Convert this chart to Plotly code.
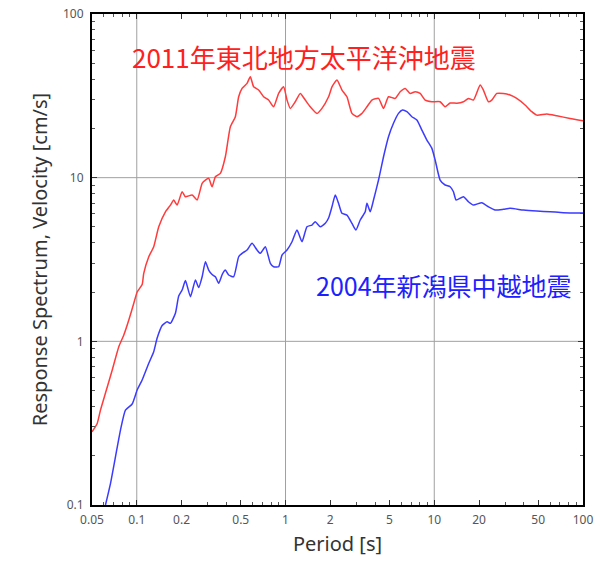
import plotly.graph_objects as go

# Velocity response spectra (period in s, velocity in cm/s)
period_2011 = [0.05, 0.0542, 0.0570, 0.0616, 0.0684, 0.0757, 0.0818, 0.0884, 0.0955, 0.1006,
               0.1087, 0.1114, 0.1204, 0.130, 0.1405, 0.1558, 0.1684, 0.1772, 0.1868, 0.2018,
               0.2124, 0.2356, 0.2545, 0.275, 0.2893, 0.3044, 0.3209, 0.3377, 0.3648, 0.394,
               0.4258, 0.460, 0.4842, 0.5104, 0.5512, 0.580, 0.6107, 0.6597, 0.7127, 0.770,
               0.832, 0.899, 0.971, 1.0235, 1.077, 1.163, 1.257, 1.358, 1.467, 1.628,
               1.758, 1.948, 2.053, 2.218, 2.397, 2.588, 2.797, 3.022, 3.265, 3.527,
               3.81, 4.22, 4.56, 4.925, 5.46, 5.90, 6.375, 6.89, 7.44, 8.04,
               8.69, 9.64, 10.95, 11.83, 12.79, 14.18, 15.71, 16.97, 18.34, 20.34,
               21.40, 23.12, 24.37, 26.33, 29.16, 32.34, 35.86, 40.79, 45.23, 48.89,
               57.05, 66.6, 81.8, 100.0]
vel_2011 = [0.280, 0.315, 0.380, 0.483, 0.668, 0.927, 1.093, 1.349, 1.707, 2.001,
            2.223, 2.603, 3.287, 3.784, 5.014, 6.19, 6.80, 7.30, 6.80, 8.20,
            7.65, 7.83, 7.30, 9.23, 9.67, 9.91, 8.80, 10.13, 10.63, 13.42,
            20.48, 23.57, 31.2, 35.1, 37.7, 41.4, 35.9, 34.3, 31.2, 29.8,
            27.1, 32.7, 35.9, 29.8, 26.5, 29.1, 32.7, 29.8, 27.1, 24.7,
            26.5, 31.2, 35.9, 39.5, 34.3, 31.2, 24.7, 23.6, 24.7, 27.1,
            29.8, 30.5, 26.5, 31.2, 30.5, 33.5, 35.1, 32.7, 33.5, 32.7,
            29.8, 29.1, 29.1, 27.1, 28.6, 28.5, 29.1, 30.5, 29.8, 36.8,
            34.3, 29.1, 29.8, 32.7, 32.7, 32.0, 30.5, 27.8, 25.3, 24.1,
            24.5, 23.9, 23.0, 22.3]

period_2004 = [0.0616, 0.0666, 0.0719, 0.0777, 0.0839, 0.0931, 0.1006, 0.1087, 0.1204, 0.130,
               0.1371, 0.1481, 0.160, 0.1684, 0.1819, 0.1914, 0.2018, 0.2124, 0.2295, 0.2479,
               0.2608, 0.275, 0.2893, 0.3044, 0.3209, 0.3377, 0.3553, 0.3763, 0.394, 0.4148,
               0.448, 0.4842, 0.5104, 0.5512, 0.5957, 0.6437, 0.6775, 0.7316, 0.7906, 0.832,
               0.899, 0.9474, 1.0235, 1.106, 1.1946, 1.291, 1.394, 1.507, 1.585, 1.713,
               1.851, 1.948, 2.053, 2.161, 2.273, 2.397, 2.588, 2.797, 2.975, 3.18,
               3.435, 3.527, 3.711, 3.906, 4.22, 4.56, 4.925, 5.32, 5.75, 6.115,
               6.546, 7.072, 7.64, 8.256, 8.92, 9.64, 10.14, 10.95, 11.83, 12.79,
               13.46, 14.03, 15.71, 16.97, 18.34, 20.88, 23.12, 25.65, 29.16, 32.34,
               39.72, 48.9, 60.05, 73.8, 100.0]
vel_2004 = [0.100, 0.1357, 0.197, 0.287, 0.380, 0.414, 0.504, 0.580, 0.734, 0.864,
            1.047, 1.249, 1.317, 1.288, 1.483, 1.891, 2.058, 2.352, 1.873, 2.368,
            2.132, 2.48, 3.064, 2.727, 2.559, 2.48, 2.262, 2.577, 2.727, 2.542,
            2.48, 3.287, 3.449, 3.613, 3.97, 3.613, 3.449, 3.784, 2.996, 2.856,
            2.856, 3.367, 3.613, 4.059, 4.786, 4.059, 5.014, 5.135, 5.38, 5.014,
            5.26, 5.666, 6.643, 7.83, 6.97, 6.054, 5.911, 5.26, 4.786, 5.51,
            6.19, 6.97, 6.19, 7.30, 9.67, 13.42, 17.79, 21.48, 24.7, 25.9,
            25.3, 23.57, 22.5, 19.54, 16.98, 15.11, 12.82, 9.67, 9.02, 8.80,
            8.20, 7.30, 7.65, 7.13, 6.80, 7.03, 6.64, 6.34, 6.41, 6.50,
            6.34, 6.25, 6.19, 6.11, 6.08]

label_2011 = "2011年東北地方太平洋沖地震"
label_2004 = "2004年新潟県中越地震"

x_tick_vals = [0.05, 0.1, 0.2, 0.5, 1, 2, 5, 10, 20, 50, 100]
x_tick_text = ["0.05", "0.1", "0.2", "0.5", "1", "2", "5", "10", "20", "50", "100"]
y_tick_vals = [0.1, 1, 10, 100]
y_tick_text = ["0.1", "1", "10", "100"]
grid_x = [0.1, 1, 10]
grid_y = [1, 10]

RED = "#ff3b3b"
BLUE = "#3b3bff"


def minor_ticks(lo, hi, skip):
    vals = []
    for e in range(-3, 4):
        for m in range(1, 10):
            v = round(m * 10 ** e, 6)
            if lo <= v <= hi and v not in skip:
                vals.append(v)
    return vals


fig = go.Figure()
fig.add_trace(go.Scatter(x=period_2011, y=vel_2011, mode="lines", name=label_2011,
                         line=dict(color=RED, width=1.5, shape="spline", smoothing=0.5)))
fig.add_trace(go.Scatter(x=period_2004, y=vel_2004, mode="lines", name=label_2004,
                         line=dict(color=BLUE, width=1.5, shape="spline", smoothing=0.5)))

# decade grid lines
shapes = []
for gx in grid_x:
    shapes.append(dict(type="line", xref="x", yref="paper", x0=gx, x1=gx, y0=0, y1=1,
                       line=dict(color="#a0a0a0", width=1), layer="below"))
for gy in grid_y:
    shapes.append(dict(type="line", xref="paper", yref="y", x0=0, x1=1, y0=gy, y1=gy,
                       line=dict(color="#a0a0a0", width=1), layer="below"))

tick_font = dict(family="Noto Sans, sans-serif", size=12, color="#555555")
title_font = dict(family="Noto Sans, sans-serif", size=20, color="#333333")

fig.update_layout(
    width=610, height=563,
    margin=dict(l=92, r=27, t=14, b=58, autoexpand=False),
    paper_bgcolor="white", plot_bgcolor="white",
    showlegend=False,
    shapes=shapes,
    xaxis=dict(
        type="log", range=[-1.30103, 2], automargin=False,
        tickmode="array", tickvals=x_tick_vals, ticktext=x_tick_text,
        ticks="inside", ticklen=5, tickwidth=1, tickcolor="#333333",
        ticklabelstandoff=3,
        minor=dict(tickmode="array", tickvals=minor_ticks(0.05, 100, x_tick_vals),
                   ticks="inside", ticklen=3, tickwidth=1, tickcolor="#555555", showgrid=False),
        showgrid=False, zeroline=False,
        showline=True, mirror="ticks", linecolor="black", linewidth=2,
        tickfont=tick_font,
        title=dict(text="Period [s]", standoff=10, font=title_font),
    ),
    yaxis=dict(
        type="log", range=[-1, 2], automargin=False,
        tickmode="array", tickvals=y_tick_vals, ticktext=y_tick_text,
        ticks="inside", ticklen=5, tickwidth=1, tickcolor="#333333",
        ticklabelstandoff=4,
        minor=dict(tickmode="array", tickvals=minor_ticks(0.1, 100, y_tick_vals),
                   ticks="inside", ticklen=3, tickwidth=1, tickcolor="#555555", showgrid=False),
        showgrid=False, zeroline=False,
        showline=True, mirror="ticks", linecolor="black", linewidth=2,
        tickfont=tick_font,
        title=dict(text="Response Spectrum, Velocity [cm/s]", standoff=10, font=title_font),
    ),
    annotations=[
        dict(text=label_2011, xref="paper", yref="paper", x=0.078, y=0.913,
             xanchor="left", yanchor="middle", showarrow=False,
             font=dict(family="Noto Sans CJK JP", size=26, color="#ff2020")),
        dict(text=label_2004, xref="paper", yref="paper", x=0.452, y=0.448,
             xanchor="left", yanchor="middle", showarrow=False,
             font=dict(family="Noto Sans CJK JP", size=25, color="#2020ff")),
    ],
)

fig.write_html("out.html")
